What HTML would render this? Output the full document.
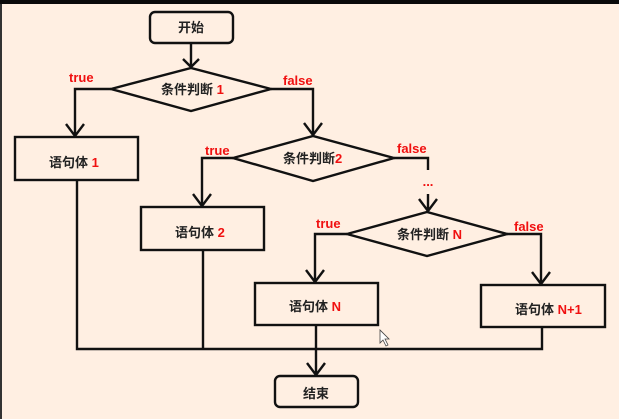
<!DOCTYPE html>
<html><head><meta charset="utf-8"><style>
html,body{margin:0;padding:0;width:619px;height:419px;overflow:hidden;background:#ffefe2}
svg{display:block}
text{font-family:"Liberation Sans","Noto Sans CJK SC",sans-serif;font-size:13px;font-weight:bold}
.k{fill:#222}.r{fill:#f01010}
</style></head><body>
<svg width="619" height="419" viewBox="0 0 619 419">
<rect x="0" y="0" width="619" height="419" fill="#ffefe2"/>
<rect x="0" y="0" width="619" height="4" fill="#0a0a0a"/>
<rect x="0" y="4" width="2" height="415" fill="#333"/>
<g fill="none" stroke="#111" stroke-width="2.4">
<rect x="150" y="12" width="83" height="31" rx="5"/>
<rect x="15" y="137" width="123" height="43"/>
<rect x="141" y="207" width="123" height="43"/>
<rect x="255" y="283" width="123" height="42"/>
<rect x="481" y="285" width="124" height="42"/>
<rect x="275" y="376" width="83" height="31" rx="5"/>
<polygon points="111,89 191,68 271,89 191,111"/>
<polygon points="233,158 313,136 394,158 313,181"/>
<polygon points="347,234 427,212 507,234 427,256"/>
<path d="M191,43V67 M183,59L191,67L199,59"/>
<path d="M111,89H75V136 M66,124L75,136L84,124"/>
<path d="M271,89H313V135 M304,123L313,135L322,123"/>
<path d="M233,158H202V206 M193,194L202,206L211,194"/>
<path d="M394,158H428V170"/>
<path d="M428,194V211 M419,199L428,211L437,199"/>
<path d="M347,234H315V282 M306,270L315,282L324,270"/>
<path d="M507,234H541V284 M532,272L541,284L550,272"/>
<path d="M77,180V349H542V327 M203,250V349 M316,325V375 M307,363L316,375L325,363"/>
</g>
<text x="191" y="32" text-anchor="middle" class="k">开始</text>
<text x="69" y="82" class="r">true</text>
<text x="283" y="85" class="r">false</text>
<text x="161" y="94" class="k">条件判断 <tspan class="r">1</tspan></text>
<text x="49" y="167" class="k">语句体 <tspan class="r">1</tspan></text>
<text x="205" y="155" class="r">true</text>
<text x="397" y="153" class="r">false</text>
<text x="283" y="163" class="k">条件判断<tspan class="r">2</tspan></text>
<text x="428" y="186" text-anchor="middle" class="r">...</text>
<text x="175" y="237" class="k">语句体 <tspan class="r">2</tspan></text>
<text x="316" y="228" class="r">true</text>
<text x="514" y="231" class="r">false</text>
<text x="397" y="239" class="k">条件判断 <tspan class="r">N</tspan></text>
<text x="289" y="311" class="k">语句体 <tspan class="r">N</tspan></text>
<text x="515" y="314" class="k">语句体 <tspan class="r">N+1</tspan></text>
<text x="316" y="398" text-anchor="middle" class="k">结束</text>
<path d="M380,330V343L383,340L386,346L388,345L385,339L389,339Z" fill="#fff" stroke="#444" stroke-width="0.8"/>
</svg>
</body></html>
